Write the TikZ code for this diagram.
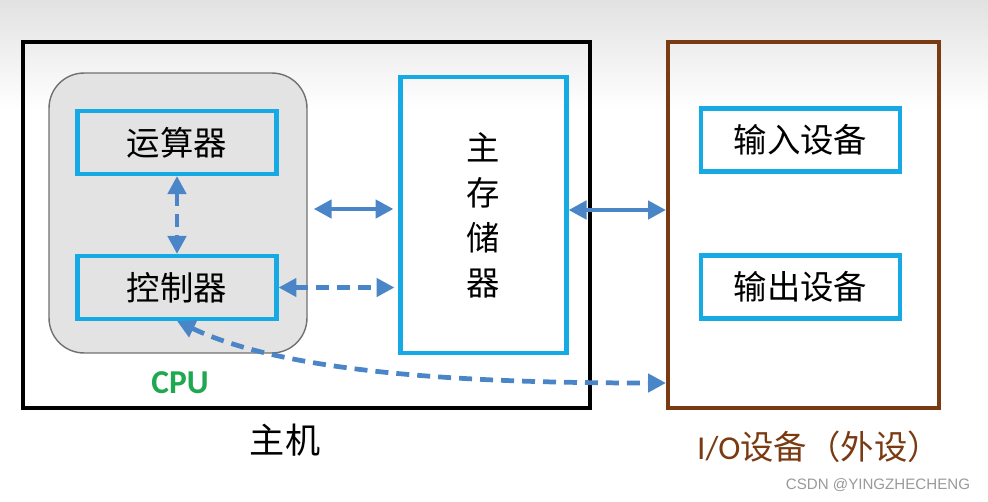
\documentclass[tikz,border=0pt]{standalone}
\usepackage{fontspec}
\setmainfont{Carlito}
\newfontfamily\cjk{Noto Sans CJK SC}
\newfontfamily\wmfont{Liberation Sans}
\usetikzlibrary{arrows.meta}

\definecolor{boxcyan}{HTML}{16AAE4}
\definecolor{arrowblue}{HTML}{4A86C7}
\definecolor{iobrown}{HTML}{7A3B12}
\definecolor{cpugreen}{HTML}{1FA84F}
\definecolor{cpufill}{HTML}{E3E3E3}
\definecolor{cpugray}{HTML}{707070}
\definecolor{bgtop}{HTML}{E2E2E2}
\definecolor{wmgray}{HTML}{9A9A9A}

\tikzset{
  unitbox/.style={draw=boxcyan, line width=2.3pt, inner sep=0pt,
    minimum width=3.98cm, minimum height=1.26cm,
    font=\cjk\fontsize{19}{25.6}\selectfont},
  busarrow/.style={draw=arrowblue, line width=2.7pt,
    {Triangle[length=0.36cm,width=0.36cm]}-{Triangle[length=0.36cm,width=0.36cm]}},
  ctrlarrow/.style={busarrow, dash pattern=on 0.26cm off 0.16cm},
}

\begin{document}
\begin{tikzpicture}[x=0.02cm, y=-0.02cm]
  % Background
  \fill[white] (0, 0) rectangle (988, 501);
  \shade[top color=bgtop, bottom color=white] (0, 0) rectangle (988, 110);
  \useasboundingbox (0, 0) rectangle (988, 501);

  % Host and I/O frames
  \node[draw, line width=2.3pt, minimum width=11.34cm, minimum height=7.32cm] (host) at (306.5, 225) {};
  \node[draw=iobrown, line width=2.3pt, minimum width=5.42cm, minimum height=7.32cm] (io) at (803.5, 225) {};

  % CPU
  \node[draw=cpugray, fill=cpufill, line width=0.8pt, rounded corners=0.7cm,
    minimum width=5.16cm, minimum height=5.6cm] (cpu) at (178, 213) {};
  \node[unitbox] (alu) at (177, 142.5) {运算器};
  \node[unitbox] (ctrl) at (177, 287.5) {控制器};

  % Memory
  \node[unitbox, align=center, minimum width=3.32cm, minimum height=5.54cm] (mem) at (483.5, 215) {主\\存\\储\\器};

  % Devices
  \node[unitbox] (inp) at (800.5, 140) {输入设备};
  \node[unitbox] (outp) at (800.5, 287) {输出设备};

  % Labels
  \node[text=cpugreen, font=\bfseries\fontsize{19}{23}\selectfont] (cpulabel) at (180, 383) {CPU};
  \node[font=\cjk\fontsize{20}{24}\selectfont] (hostlabel) at (285, 440) {主机};
  \node[text=iobrown, font=\fontsize{19}{23}\selectfont] (iolabel) at (819, 447) {I/O{\cjk 设备（外设）}};
  \node[text=wmgray, font=\wmfont\fontsize{8.6}{10}\selectfont] (mark) at (878, 485) {CSDN @YINGZHECHENG};

  % Connections
  \draw[ctrlarrow] (alu.south) -- (ctrl.north);
  \draw[busarrow, shorten <=0.12cm, shorten >=0.1cm] (cpu.east |- 0,209) -- (mem.west |- 0,209);
  \draw[ctrlarrow, shorten >=0.08cm] (ctrl.east) -- (mem.west |- ctrl.east);
  \draw[busarrow] (mem.east |- 0,210) -- (io.west |- 0,210);
  \draw[ctrlarrow] (ctrl.south) .. controls (290, 375) and (480, 383) .. (io.west |- 0,383);
\end{tikzpicture}
\end{document}
